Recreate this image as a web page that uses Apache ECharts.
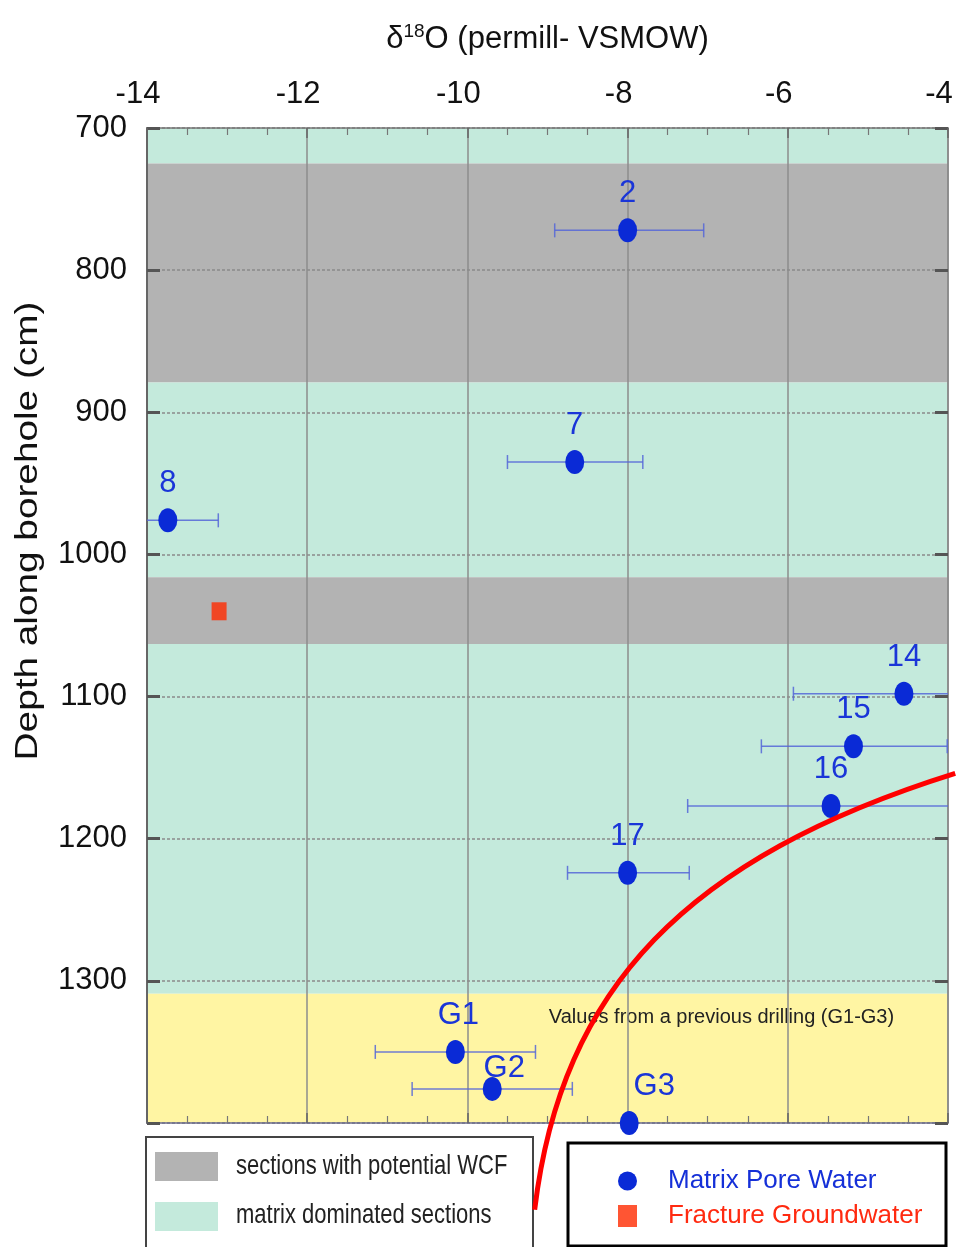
<!DOCTYPE html>
<html>
<head>
<meta charset="utf-8">
<script src="https://cdn.jsdelivr.net/npm/echarts@6/dist/echarts.min.js"></script>
<style>
html,body{margin:0;padding:0;background:#fff;}
#chart{width:956px;height:1247px;}
</style>
</head>
<body>
<div id="chart"></div>
<script>
// ---------- data ----------
const xTicks = [-14, -12, -10, -8, -6, -4];
const yTicks = [700, 800, 900, 1000, 1100, 1200, 1300];

const sampleNames = ['2', '7', '8', '14', '15', '16', '17', 'G1', 'G2', 'G3'];
const sampleD18O  = [-8.00, -8.66, -13.74, -4.55, -5.18, -5.46, -8.00, -10.15, -9.69, -7.98];
const sampleDepth = [772, 935, 976, 1098, 1135, 1177, 1224, 1350, 1376, 1400];
const errLow      = [-8.91, -9.50, -14.37, -5.93, -6.33, -7.25, -8.75, -11.15, -10.69, null];
const errHigh     = [-7.05, -7.81, -13.11, -3.14, -4.01, -3.67, -7.23, -9.15, -8.69, null];

const fractureD18O  = [-13.10];
const fractureDepth = [1040];

const bandFrom = [700, 725, 879, 1016, 1063, 1309];
const bandTo   = [725, 879, 1016, 1063, 1309, 1400];
const bandKind = ['matrix', 'wcf', 'matrix', 'wcf', 'matrix', 'previous'];

// hand-drawn red annotation curve (cubic Bézier: start, control 1, control 2, end), in data units
const curveD18O  = [-9.16, -8.83, -7.26, -3.91];
const curveDepth = [1461, 1305, 1213, 1154];

// ---------- styles ----------
const SANS = '"Liberation Sans", Arial, Helvetica, sans-serif';
const BLUE = '#0a2ad6';
const RED = '#ff2a00';
const bandColor = { matrix: '#c4eadc', wcf: '#b3b3b3', previous: '#fff5a3' };
const labelShift = { 'G1': [3, 0], 'G2': [12, 16], 'G3': [25, 0] };
const ELLIPSE = 'path://M50,0 A50,50 0 1,1 50,100 A50,50 0 1,1 50,0 Z';

const chart = echarts.init(document.getElementById('chart'), null, { renderer: 'canvas' });

const markAreaData = bandFrom.map((f, i) => [
  { yAxis: f, itemStyle: { color: bandColor[bandKind[i]] },
    label: bandKind[i] === 'previous' ? {
      show: true, position: 'insideTop', offset: [174, 9],
      formatter: 'Values from a previous drilling (G1-G3)',
      fontFamily: SANS, fontSize: 20, color: '#222'
    } : { show: false } },
  { yAxis: bandTo[i] }
]);

const pointData = sampleNames.map((n, i) => ({
  name: n,
  value: [sampleD18O[i], sampleDepth[i]],
  label: labelShift[n] ? { offset: labelShift[n] } : {}
}));

const errData = sampleNames.map((n, i) => [errLow[i], errHigh[i], sampleDepth[i]]).filter(d => d[0] != null);

const axisFont = { fontFamily: SANS, fontSize: 31, color: '#111' };

const staticGraphics = [
  { id: 'lbox', type: 'rect', z: 1, shape: { x: 146, y: 1137, width: 387, height: 140 },
    style: { fill: '#fff', stroke: '#444', lineWidth: 2 } },
  { id: 'lsw1', type: 'rect', z: 1, shape: { x: 155, y: 1152, width: 63, height: 29 }, style: { fill: bandColor.wcf } },
  { id: 'ltx1', type: 'text', z: 1, x: 236, y: 1167, scaleY: 1.22,
    style: { text: 'sections with potential WCF', font: '22px ' + SANS,
    fill: '#222', verticalAlign: 'middle', align: 'left' } },
  { id: 'lsw2', type: 'rect', z: 1, shape: { x: 155, y: 1202, width: 63, height: 29 }, style: { fill: bandColor.matrix } },
  { id: 'ltx2', type: 'text', z: 1, x: 236, y: 1216, scaleY: 1.22,
    style: { text: 'matrix dominated sections', font: '22px ' + SANS,
    fill: '#222', verticalAlign: 'middle', align: 'left' } },
  { id: 'rbox', type: 'rect', z: 1, shape: { x: 568, y: 1143, width: 378, height: 103 },
    style: { fill: '#fff', stroke: '#000', lineWidth: 3 } },
  { id: 'ytitle', type: 'text', z: 1, x: 28, y: 531, rotation: Math.PI / 2, scaleX: 1.25,
    style: { text: 'Depth along borehole (cm)', font: '31px ' + SANS, fill: '#111', align: 'center', verticalAlign: 'middle' } }
];

const option = {
  animation: false,
  grid: { left: 147, right: 8, top: 128, bottom: 124, containLabel: false },
  xAxis: [
    {
      type: 'value', position: 'top', min: xTicks[0], max: xTicks[xTicks.length - 1], interval: 2, z: 1.5,
      name: '{a|δ}{s|18}{a|O (permill- VSMOW)}', nameLocation: 'middle', nameGap: 72,
      nameTextStyle: {
        rich: {
          a: { fontFamily: SANS, fontSize: 31, color: '#111', lineHeight: 34 },
          s: { fontFamily: SANS, fontSize: 19, color: '#111', verticalAlign: 'top', lineHeight: 34, padding: [0, 0, 14, 0] }
        }
      },
      axisLine: { show: true, lineStyle: { color: '#777', width: 1.5 } },
      axisTick: { show: true, inside: true, length: 10, lineStyle: { color: '#666', width: 1.5 } },
      minorTick: { show: true, splitNumber: 4, length: 7, lineStyle: { color: '#777', width: 1.2 } },
      axisLabel: Object.assign({ margin: 18, padding: [0, 18, 0, 0], formatter: v => String(v) }, axisFont),
      splitLine: { show: true, lineStyle: { color: '#8c8c8c', width: 1.5 } }
    },
    {
      type: 'value', position: 'bottom', min: xTicks[0], max: xTicks[xTicks.length - 1], interval: 2, z: 1.5,
      axisLine: { show: true, lineStyle: { color: '#6a6a8a', width: 1.5 } },
      axisTick: { show: true, inside: true, length: 10, lineStyle: { color: '#666', width: 1.5 } },
      minorTick: { show: true, splitNumber: 4, length: 7, lineStyle: { color: '#777', width: 1.2 } },
      axisLabel: { show: false },
      splitLine: { show: false }
    }
  ],
  yAxis: [
    {
      type: 'value', inverse: true, min: yTicks[0], max: 1400, interval: 100, z: 1.5,
      axisLine: { show: true, lineStyle: { color: '#666', width: 2 } },
      axisTick: { show: true, inside: true, length: 13, lineStyle: { color: '#555', width: 3 } },
      axisLabel: Object.assign({ margin: 20, formatter: v => (yTicks.indexOf(v) >= 0 ? String(v) : '') }, axisFont),
      splitLine: { show: true, lineStyle: { color: '#8a8a8a', width: 1.5, type: [3, 2] } }
    },
    {
      type: 'value', inverse: true, min: yTicks[0], max: 1400, interval: 100, position: 'right', z: 1.5,
      axisLine: { show: true, lineStyle: { color: '#888', width: 1.5 } },
      axisTick: { show: true, inside: true, length: 13, lineStyle: { color: '#555', width: 3 } },
      axisLabel: { show: false },
      splitLine: { show: false }
    }
  ],
  legend: {
    orient: 'vertical', left: 613, top: 1163, itemGap: 9, itemWidth: 19, itemHeight: 22,
    selectedMode: false,
    data: ['Matrix Pore Water', 'Fracture Groundwater'],
    formatter: function (name) {
      return '{g|}' + (name === 'Matrix Pore Water' ? '{b|' : '{r|') + name + '}';
    },
    textStyle: {
      rich: {
        g: { width: 26 },
        b: { fontFamily: SANS, fontSize: 26, color: '#1530d8', lineHeight: 26 },
        r: { fontFamily: SANS, fontSize: 26, color: '#ff2a10', lineHeight: 26 }
      }
    },
    z: 5
  },
  graphic: staticGraphics,
  series: [
    {
      type: 'line', name: 'bands', data: [], silent: true, z: 0,
      markArea: { silent: true, z: 0, data: markAreaData }
    },
    {
      type: 'custom', name: 'errors', silent: true, z: 2,
      data: errData,
      encode: { x: [0, 1], y: 2 },
      renderItem: function (params, api) {
        const cs = params.coordSys;
        const y = api.coord([api.value(0), api.value(2)])[1];
        let x1 = api.coord([api.value(0), api.value(2)])[0];
        let x2 = api.coord([api.value(1), api.value(2)])[0];
        const left = cs.x, right = cs.x + cs.width;
        const cap1 = x1 >= left - 0.5, cap2 = x2 <= right + 0.5;
        x1 = Math.max(x1, left); x2 = Math.min(x2, right);
        const st = { stroke: '#5566d8', lineWidth: 1.5, opacity: 0.85 };
        const ch = [{ type: 'line', shape: { x1: x1, y1: y, x2: x2, y2: y }, style: st }];
        if (cap1) ch.push({ type: 'line', shape: { x1: x1, y1: y - 7, x2: x1, y2: y + 7 }, style: st });
        if (cap2) ch.push({ type: 'line', shape: { x1: x2, y1: y - 7, x2: x2, y2: y + 7 }, style: st });
        return { type: 'group', children: ch };
      }
    },
    {
      type: 'scatter', name: 'Matrix Pore Water', z: 3,
      symbol: ELLIPSE, symbolSize: [19, 24],
      itemStyle: { color: BLUE, opacity: 1 },
      label: { show: true, position: 'top', distance: 9, formatter: '{b}',
               fontFamily: SANS, fontSize: 31, color: '#1a35d8' },
      data: pointData
    },
    {
      type: 'scatter', name: 'Fracture Groundwater', z: 3,
      symbol: 'rect', symbolSize: [15, 18],
      itemStyle: { color: RED },
      data: fractureD18O.map((x, i) => [x, fractureDepth[i]])
    }
  ]
};
chart.setOption(option);

// red hand-drawn annotation: data units -> pixels through the chart's own axes
const cp = curveD18O.map((x, i) => chart.convertToPixel({ gridIndex: 0 }, [x, curveDepth[i]]));
chart.setOption({
  graphic: staticGraphics.concat([{
    id: 'annotCurve', type: 'bezierCurve', z: 20, silent: true,
    shape: { x1: cp[0][0], y1: cp[0][1], cpx1: cp[1][0], cpy1: cp[1][1],
             cpx2: cp[2][0], cpy2: cp[2][1], x2: cp[3][0], y2: cp[3][1] },
    style: { stroke: '#ff0000', lineWidth: 5, fill: null, lineCap: 'butt' }
  }])
});
</script>
</body>
</html>
